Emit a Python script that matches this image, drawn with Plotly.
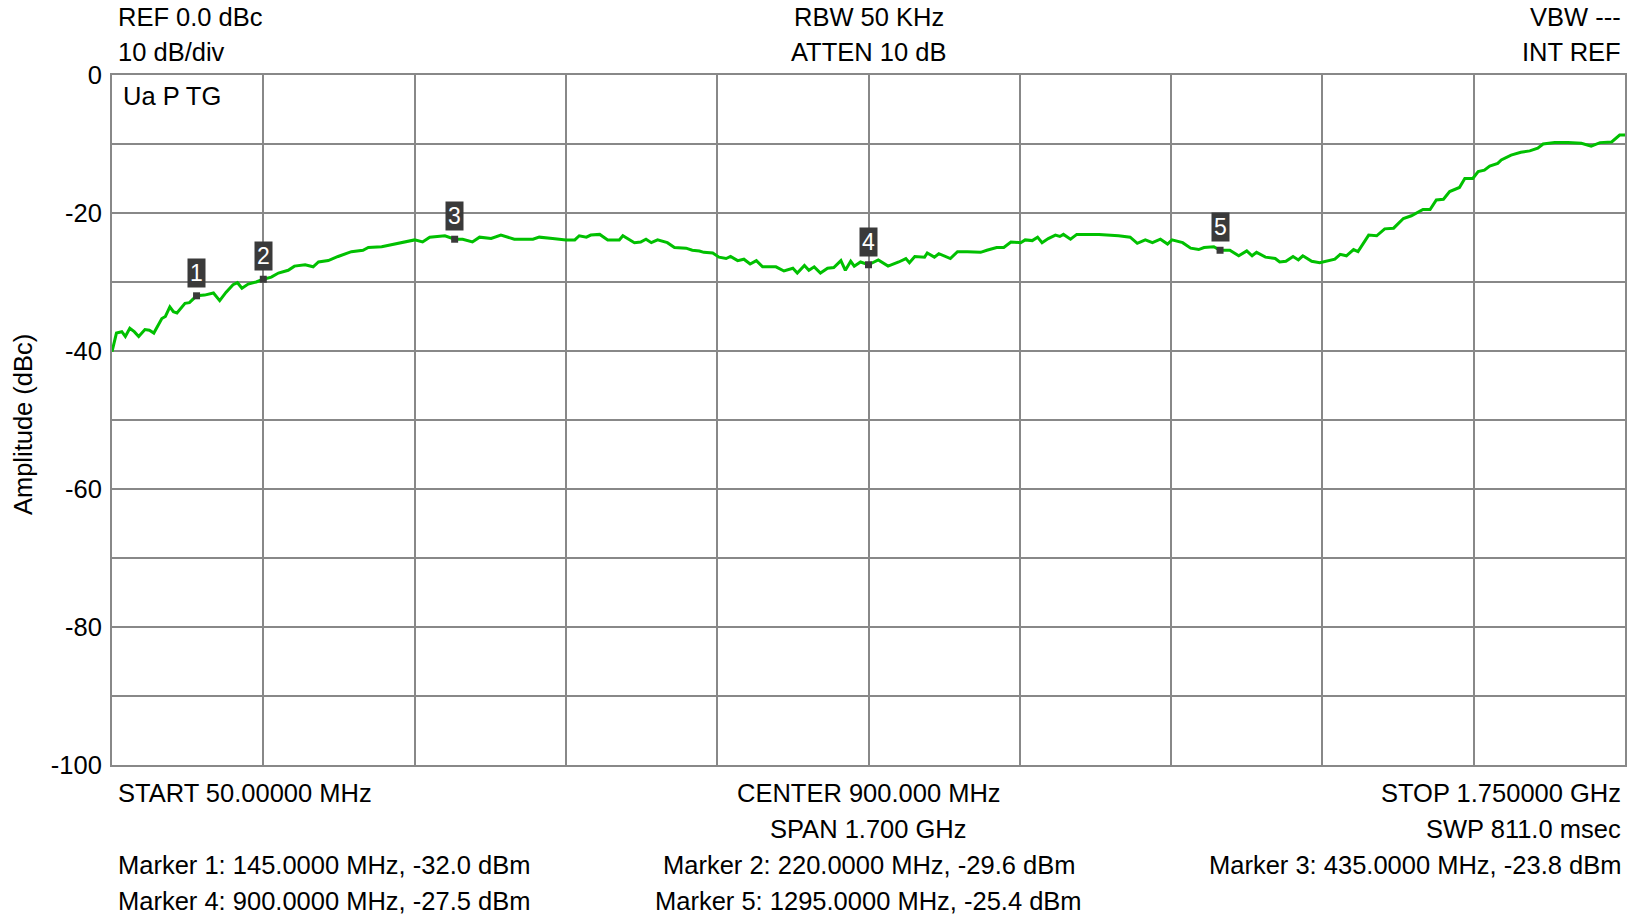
import plotly.graph_objects as go

# Swept response trace: frequency (MHz) and amplitude (dBc)
freq_mhz = [
    50, 53, 55, 61, 65, 70, 75, 80, 87, 92, 97, 106, 110, 115, 119, 123, 132, 137,
    145, 154, 164, 171, 178, 186, 191, 196, 203, 212, 220, 229, 237, 248, 255, 267,
    276, 282, 293, 304, 319, 332, 338, 353, 364, 375, 390, 399, 407, 424, 435, 444,
    455, 463, 476, 487, 502, 523, 530, 545, 560, 570, 575, 583, 588, 598, 607, 620,
    624, 637, 644, 650, 656, 663, 674, 682, 695, 702, 710, 715, 725, 732, 740, 745,
    753, 760, 767, 774, 781, 796, 805, 815, 820, 828, 833, 839, 846, 854, 861, 869,
    874, 880, 884, 891, 900, 911, 922, 934, 942, 946, 952, 963, 966, 974, 979, 992,
    1000, 1011, 1026, 1033, 1044, 1052, 1060, 1071, 1076, 1084, 1090, 1095, 1102,
    1110, 1115, 1119, 1127, 1134, 1159, 1181, 1194, 1202, 1211, 1219, 1228, 1236,
    1241, 1253, 1262, 1271, 1277, 1288, 1295, 1306, 1316, 1325, 1331, 1336, 1346,
    1357, 1362, 1369, 1377, 1383, 1388, 1398, 1407, 1424, 1430, 1437, 1445, 1450,
    1462, 1471, 1480, 1490, 1501, 1510, 1523, 1531, 1538, 1546, 1553, 1564, 1570,
    1579, 1585, 1592, 1598, 1607, 1611, 1622, 1633, 1643, 1652, 1658, 1671, 1686,
    1701, 1712, 1722, 1735, 1744, 1750,
]
amp_dbc = [
    -40.1, -38.5, -37.4, -37.2, -37.9, -36.7, -37.2, -37.9, -36.9, -37.0, -37.4, -35.3,
    -35.0, -33.6, -34.3, -34.5, -33.1, -33.0, -32.0, -31.9, -31.6, -32.7, -31.5, -30.4,
    -30.1, -30.9, -30.3, -30.0, -29.6, -29.3, -28.7, -28.3, -27.7, -27.5, -27.8, -27.1,
    -26.9, -26.3, -25.6, -25.4, -25.0, -24.9, -24.6, -24.2, -23.9, -24.2, -23.5, -23.3,
    -23.8, -23.8, -24.2, -23.5, -23.7, -23.2, -23.8, -23.8, -23.5, -23.7, -23.9, -23.9,
    -23.3, -23.5, -23.2, -23.1, -23.9, -23.9, -23.3, -24.3, -24.2, -23.8, -24.3, -23.9,
    -24.3, -25.0, -25.1, -25.4, -25.5, -25.7, -25.8, -26.4, -26.6, -26.3, -26.9, -26.7,
    -27.4, -26.9, -27.8, -27.8, -28.4, -28.0, -28.7, -27.6, -28.3, -27.8, -28.7, -28.0,
    -27.9, -26.9, -28.3, -27.0, -27.7, -27.1, -27.5, -26.8, -27.7, -27.1, -26.6, -27.2,
    -26.3, -26.4, -25.8, -26.4, -25.9, -26.6, -25.6, -25.6, -25.7, -25.4, -25.0, -25.0,
    -24.2, -24.3, -23.9, -24.0, -23.5, -24.3, -23.7, -23.2, -23.4, -23.1, -23.8, -23.1,
    -23.1, -23.3, -23.5, -24.4, -23.9, -24.3, -23.8, -24.5, -23.9, -24.3, -25.1, -25.3,
    -25.0, -24.9, -25.4, -25.4, -26.2, -25.5, -26.2, -25.7, -26.4, -26.6, -27.1, -27.0,
    -26.3, -26.8, -26.2, -27.0, -27.2, -26.7, -26.0, -26.2, -25.3, -25.6, -23.2, -23.3,
    -22.3, -22.2, -20.8, -20.4, -19.5, -19.5, -18.1, -18.0, -16.9, -16.3, -15.0, -15.0,
    -14.0, -13.8, -13.2, -12.8, -12.3, -11.6, -11.2, -11.0, -10.6, -10.0, -9.8, -9.8,
    -9.9, -10.3, -9.8, -9.7, -8.7, -8.7,
]

# Markers
marker_ids = ["1", "2", "3", "4", "5"]
marker_freq = [145.0, 220.0, 435.0, 900.0, 1295.0]
marker_amp = [-32.0, -29.6, -23.8, -27.5, -25.4]

# Axis ticks
y_tick_vals = [0, -10, -20, -30, -40, -50, -60, -70, -80, -90, -100]
y_tick_text = ["0", "", "-20", "", "-40", "", "-60", "", "-80", "", "-100"]
f_start, f_stop, f_div = 50.0, 1750.0, 170.0

# Instrument settings readout
header_left = ["REF 0.0 dBc", "10 dB/div"]
header_mid = ["RBW 50 KHz", "ATTEN 10 dB"]
header_right = ["VBW ---", "INT REF"]
footer_left = ["START 50.00000 MHz", "", "Marker 1: 145.0000 MHz, -32.0 dBm",
               "Marker 4: 900.0000 MHz, -27.5 dBm"]
footer_mid = ["CENTER 900.000 MHz", "SPAN 1.700 GHz", "Marker 2: 220.0000 MHz, -29.6 dBm",
              "Marker 5: 1295.0000 MHz, -25.4 dBm"]
footer_right = ["STOP 1.750000 GHz", "SWP 811.0 msec", "Marker 3: 435.0000 MHz, -23.8 dBm", ""]
trace_label = "Ua P TG"
y_title = "Amplitude (dBc)"

W, H = 1632, 918
L, R, T, B = 112, 5, 75, 153
PW, PH = W - L - R, H - T - B
FONT = "Liberation Sans, Arial, sans-serif"
FS = 25.5
GRID = "#888888"


def px(x):
    return (x - L) / PW


def py(y):
    return (H - B - y) / PH


fig = go.Figure()
fig.add_trace(go.Scatter(
    x=freq_mhz, y=amp_dbc, mode="lines",
    line=dict(color="#00c000", width=3), hoverinfo="skip",
))
fig.add_trace(go.Scatter(
    x=marker_freq, y=marker_amp, mode="markers",
    marker=dict(symbol="square", size=7, color="#3a3a3a", line=dict(width=0)),
    hoverinfo="skip",
))

annotations = []
for mid, mf, ma in zip(marker_ids, marker_freq, marker_amp):
    annotations.append(dict(
        x=mf, y=ma, xref="x", yref="y", text=mid, showarrow=False,
        xanchor="center", yanchor="bottom", yshift=8,
        width=17, height=28, borderpad=0, bgcolor="#3a3a3a",
        font=dict(family=FONT, size=23, color="white"),
    ))


def text_at(txt, x, y, anchor):
    if txt:
        annotations.append(dict(
            x=px(x), y=py(y), xref="paper", yref="paper", text=txt, showarrow=False,
            xanchor=anchor, yanchor="middle", font=dict(family=FONT, size=FS, color="black"),
        ))


head_rows = [17, 52]
foot_rows = [793, 829, 865, 901]
for row, yy in enumerate(head_rows):
    text_at(header_left[row], 116, yy, "left")
    text_at(header_mid[row], 869.5, yy, "center")
    text_at(header_right[row], 1625, yy, "right")
for row, yy in enumerate(foot_rows):
    text_at(footer_left[row], 116, yy, "left")
    text_at(footer_mid[row], 869.5, yy, "center")
    text_at(footer_right[row], 1625, yy, "right")
text_at(trace_label, 121, 96, "left")

annotations.append(dict(
    x=px(23), y=py(425), xref="paper", yref="paper", text=y_title, showarrow=False,
    textangle=-90, xanchor="center", yanchor="middle",
    font=dict(family=FONT, size=FS, color="black"),
))

fig.update_layout(
    width=W, height=H, margin=dict(l=L, r=R, t=T, b=B),
    paper_bgcolor="white", plot_bgcolor="white", showlegend=False,
    annotations=annotations,
    font=dict(family=FONT, size=FS, color="black"),
)
fig.update_xaxes(
    range=[f_start, f_stop], tick0=f_start, dtick=f_div, showticklabels=False,
    showgrid=True, gridcolor=GRID, gridwidth=2, zeroline=False,
    showline=True, linecolor=GRID, linewidth=2, mirror=True, ticks="",
)
fig.update_yaxes(
    range=[-100, 0], tickvals=y_tick_vals, ticktext=y_tick_text,
    showgrid=True, gridcolor=GRID, gridwidth=2, zeroline=False,
    showline=True, linecolor=GRID, linewidth=2, mirror=True, ticks="",
    ticklabelstandoff=3, tickfont=dict(family=FONT, size=FS, color="black"),
)

fig.write_html("out.html")
